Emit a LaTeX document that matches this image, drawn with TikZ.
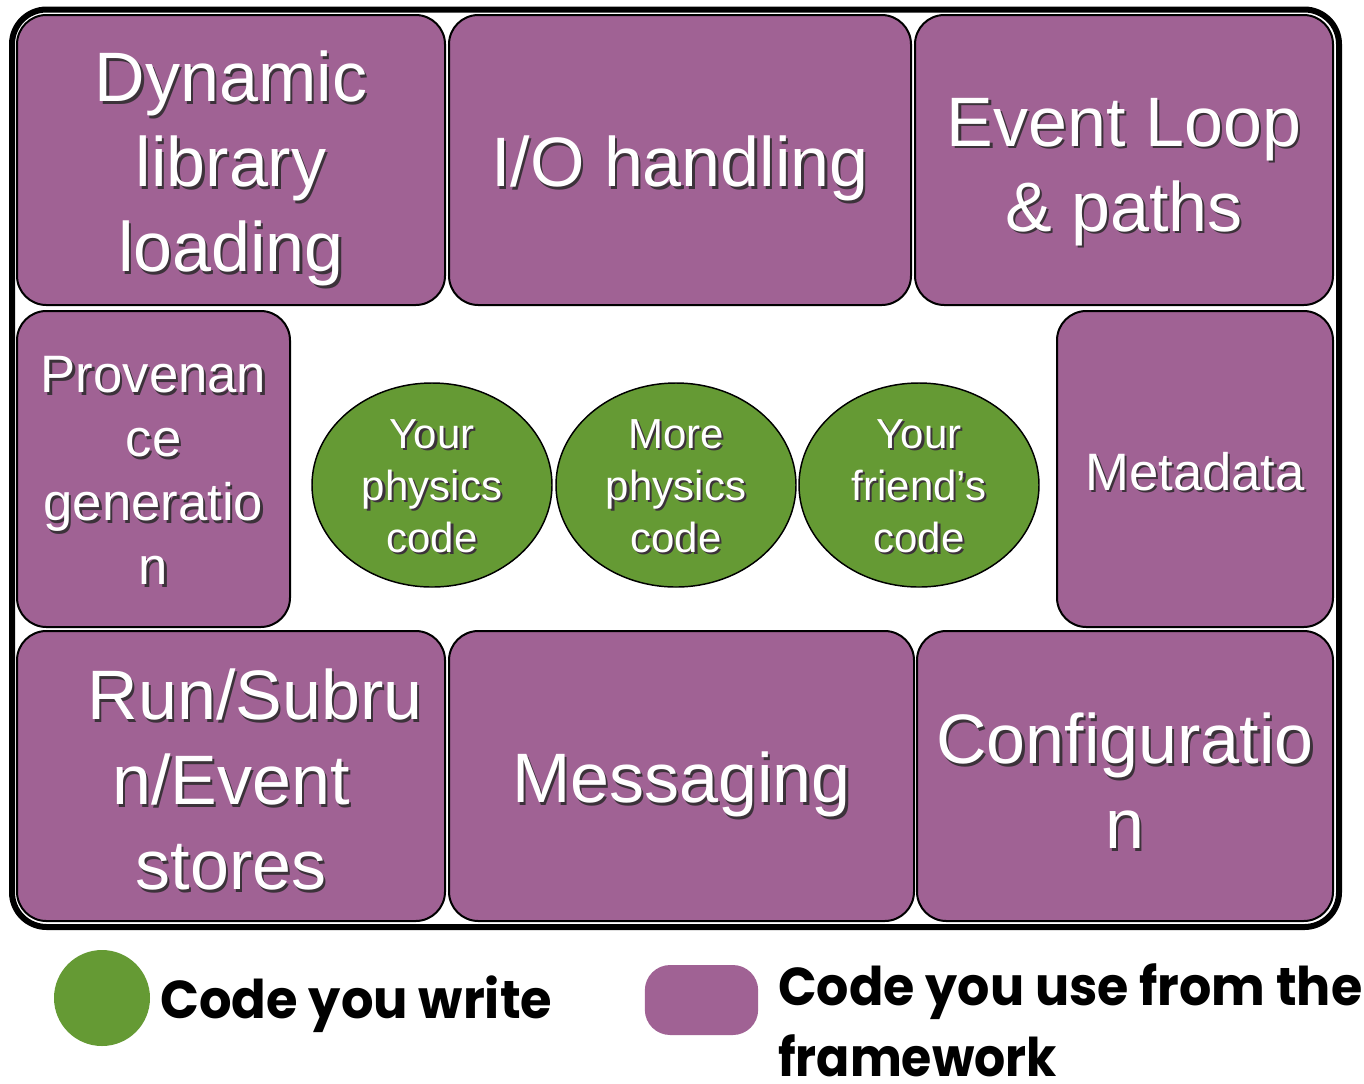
\documentclass[tikz,border=0pt]{standalone}
\usepackage{fontspec}
\setmainfont{Liberation Sans}
\newfontfamily\legfont{Poppins}
\usetikzlibrary{shapes.geometric}
\definecolor{fwpurple}{RGB}{160,98,148}
\definecolor{wgreen}{RGB}{101,154,52}
\definecolor{shd}{RGB}{60,50,58}
\newlength\tshift
\setlength\tshift{0pt}
\newcommand\sh[1]{\raisebox{-\tshift}[\height][\depth]{\rlap{\kern1.7pt\raisebox{-1.7pt}{\textcolor{shd}{#1}}}\textcolor{white}{#1}}}
\tikzset{
  fwbox/.style={draw=black, line width=1.5pt, fill=fwpurple, rounded corners=22pt,
    rectangle, align=center, inner sep=0pt},
  dn/.style={execute at begin node={\setlength{\tshift}{#1}}},
  bigtxt/.style={font=\fontsize{52.5}{63.75}\selectfont},
  midtxt/.style={font=\fontsize{39.5}{48}\selectfont},
  wrcode/.style={draw=black, line width=1.1pt, fill=wgreen, ellipse, align=center,
    inner sep=0pt, minimum width=180pt, minimum height=153pt,
    font=\fontsize{31.5}{39}\selectfont, dn=1.5pt},
  legtxt/.style={font=\legfont\bfseries\fontsize{40}{48}\selectfont, inner sep=0pt, anchor=base west}
}
\begin{document}
\begin{tikzpicture}[x=0.75pt,y=-0.75pt]
\useasboundingbox[fill=white] (0,0) rectangle (1364,1083);
% outer frame
\draw[line width=4.5pt, rounded corners=26pt, fill=white] (12,9.5) rectangle (1339,927);
% top row
\node[fwbox, bigtxt, dn=7.5pt, minimum width=321pt, minimum height=217.5pt] (dyn) at (231,160)
  {\sh{Dynamic}\\\sh{library}\\\sh{loading}};
\node[fwbox, bigtxt, dn=7.5pt, minimum width=346.5pt, minimum height=217.5pt] (io) at (680,160)
  {\sh{I/O handling}};
\node[fwbox, bigtxt, dn=9.75pt, minimum width=313.5pt, minimum height=217.5pt] (evl) at (1124,160)
  {\sh{Event Loop}\\\sh{\& paths}};
% middle row
\node[fwbox, midtxt, dn=2.25pt, minimum width=204.75pt, minimum height=237pt] (prov) at (153.5,469)
  {\sh{Provenan}\\\sh{ce}\\\sh{generatio}\\\sh{n}};
\node[fwbox, midtxt, dn=3pt, minimum width=207pt, minimum height=237pt] (meta) at (1195,469)
  {\sh{Metadata}};
% bottom row
\node[fwbox, bigtxt, dn=3.75pt, minimum width=321pt, minimum height=217.5pt] (run) at (231,776)
  {\hspace*{36pt}\sh{Run/Subru}\\\sh{n/Event}\\\sh{stores}};
\node[fwbox, bigtxt, dn=7.5pt, minimum width=348.75pt, minimum height=217.5pt] (msg) at (681.5,776)
  {\sh{Messaging}};
\node[fwbox, bigtxt, dn=4.5pt, minimum width=312pt, minimum height=217.5pt] (conf) at (1125,776)
  {\sh{Configuratio}\\\sh{n}};
% user code
\node[wrcode] (phys1) at (432,485) {\sh{Your}\\\sh{physics}\\\sh{code}};
\node[wrcode] (phys2) at (676,485) {\sh{More}\\\sh{physics}\\\sh{code}};
\node[wrcode] (friend) at (919,485) {\sh{Your}\\\sh{friend’s}\\\sh{code}};
% legend
\node[circle, fill=wgreen, minimum size=72pt, inner sep=0pt] (legc) at (102,998) {};
\node[legtxt] (legw) at (160,1018) {\resizebox{294pt}{\height}{Code you write}};
\node[rectangle, fill=fwpurple, rounded corners=19pt, minimum width=85pt, minimum height=52.5pt, inner sep=0pt] (legr) at (701.5,1000) {};
\node[legtxt] (legu1) at (778,1005) {\resizebox{438pt}{\height}{Code you use from the}};
\node[legtxt] (legu2) at (778,1076) {\resizebox{209pt}{\height}{framework}};
\end{tikzpicture}
\end{document}
